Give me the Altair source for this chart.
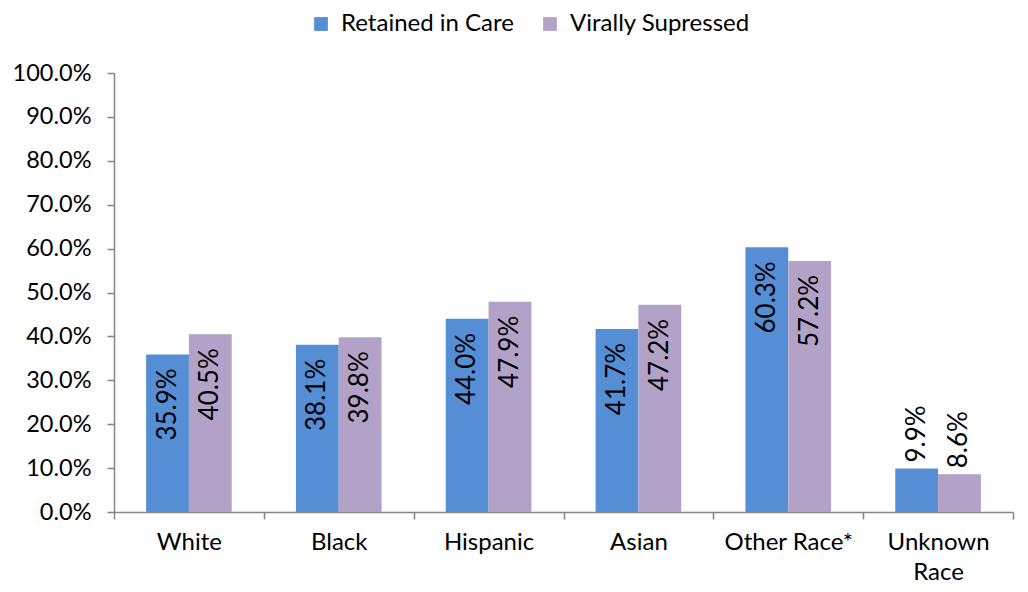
import altair as alt
import pandas as pd

categories = ["White", "Black", "Hispanic", "Asian", "Other Race*", "Unknown Race"]
series = ["Retained in Care", "Virally Supressed"]
retained = [35.9, 38.1, 44.0, 41.7, 60.3, 9.9]
suppressed = [40.5, 39.8, 47.9, 47.2, 57.2, 8.6]
y_ticks = [0.0, 0.1, 0.2, 0.3, 0.4, 0.5, 0.6, 0.7, 0.8, 0.9, 1.0]
colors = ["#558ED5", "#B3A2C7"]

rows = []
for i, c in enumerate(categories):
    rows.append({"cat": c, "series": series[0], "value": retained[i] / 100})
    rows.append({"cat": c, "series": series[1], "value": suppressed[i] / 100})
df = pd.DataFrame(rows)

FONT = "Lato"
AXIS_COLOR = "#868686"

x = alt.X(
    "cat:N",
    sort=categories,
    scale=alt.Scale(paddingInner=0, paddingOuter=0),
    axis=alt.Axis(
        title=None,
        labelAngle=0,
        labelFontSize=24,
        labelFont=FONT,
        labelColor="black",
        labelPadding=11,
        labelLineHeight=30,
        labelExpr="datum.label == 'Unknown Race' ? ['Unknown', 'Race'] : datum.label",
        domainColor=AXIS_COLOR,
        domainWidth=1.5,
        tickColor=AXIS_COLOR,
        tickWidth=1.5,
        tickSize=7,
        tickBand="extent",
    ),
)
xoff = alt.XOffset(
    "series:N",
    sort=series,
    scale=alt.Scale(paddingInner=0, paddingOuter=0.75),
)
y = alt.Y(
    "value:Q",
    scale=alt.Scale(domain=[0, 1], nice=False),
    axis=alt.Axis(
        title=None,
        values=y_ticks,
        format=".1%",
        labelFontSize=23.5,
        labelFont=FONT,
        labelColor="black",
        labelPadding=16,
        grid=False,
        domainColor=AXIS_COLOR,
        domainWidth=1.5,
        tickColor=AXIS_COLOR,
        tickWidth=1.5,
        tickSize=7,
    ),
)

base = alt.Chart(df)

bars = base.mark_bar().encode(
    x=x,
    xOffset=xoff,
    y=y,
    color=alt.Color(
        "series:N",
        sort=series,
        scale=alt.Scale(domain=series, range=colors),
        legend=alt.Legend(
            title=None,
            orient="none",
            direction="horizontal",
            legendX=195,
            legendY=-61,
            symbolType="square",
            symbolSize=190,
            symbolStrokeWidth=0,
            labelFontSize=24,
            labelFont=FONT,
            labelColor="black",
            labelLimit=0,
            columnPadding=24,
            labelOffset=8,
        ),
    ),
)

inside = base.transform_filter("datum.value >= 0.2").mark_text(
    angle=270, align="right", baseline="middle", dx=-14, fontSize=26, font=FONT, color="black"
).encode(x=x, xOffset=xoff, y=y, text=alt.Text("value:Q", format=".1%"))

outside = base.transform_filter("datum.value < 0.2").mark_text(
    angle=270, align="left", baseline="middle", dx=6, fontSize=26, font=FONT, color="black"
).encode(x=x, xOffset=xoff, y=y, text=alt.Text("value:Q", format=".1%"))

chart = (
    alt.layer(bars, inside, outside)
    .properties(
        width=1012,
        height=576,
        autosize=alt.AutoSizeParams(type="fit", contains="padding"),
        padding={"left": 4, "top": 53, "right": 6, "bottom": 0},
    )
    .configure_view(stroke=None)
)

chart.save("out.html", embed_options={"renderer": "svg", "actions": False})
